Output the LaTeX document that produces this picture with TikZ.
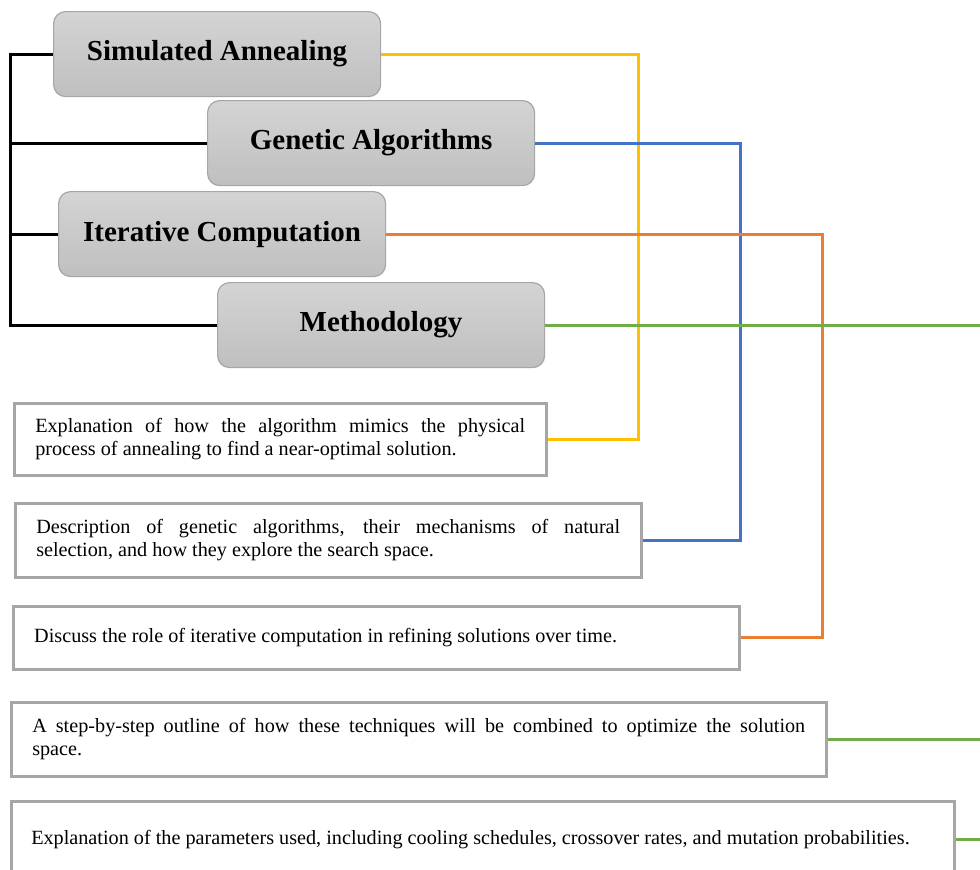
\documentclass[tikz,border=0pt]{standalone}
\usepackage{fontspec}
\setmainfont{Liberation Serif}
\usepackage{tikz}

\definecolor{annealyellow}{HTML}{FFC000}
\definecolor{geneticblue}{HTML}{4472C4}
\definecolor{iterorange}{HTML}{ED7D31}
\definecolor{methgreen}{HTML}{70AD47}
\definecolor{boxedge}{HTML}{A6A6A6}

\tikzset{
  topicbox/.style = {rectangle, rounded corners = 12pt, draw = boxedge, line width = 1.2pt,
    top color = gray!34, bottom color = gray!50, anchor = north west, inner sep = 0pt,
    minimum width = 327pt, minimum height = 85pt, font = \fontsize{29}{34}\selectfont\bfseries},
  descbox/.style = {rectangle, draw = boxedge, line width = 2.5pt, anchor = north west,
    inner xsep = 21pt, inner ysep = 0pt, align = justify,
    font = \fontsize{20.2}{23}\selectfont},
  bracket/.style = {line width = 3pt, black},
  link/.style = {line width = 3pt}
}

\begin{document}
\begin{tikzpicture}[x = 1pt, y = -1pt]
      \useasboundingbox (0, 0) rectangle (980, 870);

      \node[topicbox] (anneal) at (53, 11) {Simulated Annealing};
      \node[topicbox] (genetic) at (207, 100) {Genetic Algorithms};
      \node[topicbox] (iterate) at (58, 191) {Iterative Computation};
      \node[topicbox] (method) at (217, 282) {Methodology};

      \node[descbox, text width = 490pt, minimum height = 72pt] (annealtext) at (13, 402)
        {Explanation of how the algorithm mimics the physical\linebreak process of annealing to find a near-optimal solution.};
      \node[descbox, text width = 584pt, minimum height = 74pt] (genetictext) at (14, 502)
        {Description of genetic algorithms, their mechanisms of natural\linebreak selection, and how they explore the search space.};
      \node[descbox, text width = 684pt, minimum height = 63pt] (iteratetext) at (12, 605)
        {Discuss the role of iterative computation in refining solutions over time.};
      \node[descbox, text width = 773pt, minimum height = 74pt] (steptext) at (10, 701)
        {A step-by-step outline of how these techniques will be combined to optimize the solution\linebreak space.};
      \node[descbox, inner xsep = 20pt, text width = 903pt, minimum height = 76pt] (paramtext) at (10, 800)
        {Explanation of the parameters used, including cooling schedules, crossover rates, and mutation probabilities.};

      % bends and free ends
      \coordinate (spine) at (10, 0);
      \coordinate (yellowbend) at (638, 0);
      \coordinate (bluebend) at (740, 0);
      \coordinate (orangebend) at (822, 0);
      \coordinate (greenend) at (990, 0);

      % left bracket
      \draw[bracket] (anneal.west) -- (anneal.west -| spine) -- (method.west -| spine) -- (method.west);
      \draw[bracket] (genetic.west -| spine) -- (genetic.west);
      \draw[bracket] (iterate.west -| spine) -- (iterate.west);

      \draw[link, annealyellow] (anneal.east) -| (yellowbend |- annealtext.east) -- (annealtext.east);
      \draw[link, geneticblue] (genetic.east) -| (bluebend |- genetictext.east) -- (genetictext.east);
      \draw[link, iterorange] (iterate.east) -| (orangebend |- iteratetext.east) -- (iteratetext.east);
      \draw[link, methgreen] (method.east) -- (method.east -| greenend);
      \draw[link, methgreen] (steptext.east) -- (steptext.east -| greenend);
      \draw[link, methgreen] (paramtext.east) -- (paramtext.east -| greenend);
    \end{tikzpicture}
\end{document}
